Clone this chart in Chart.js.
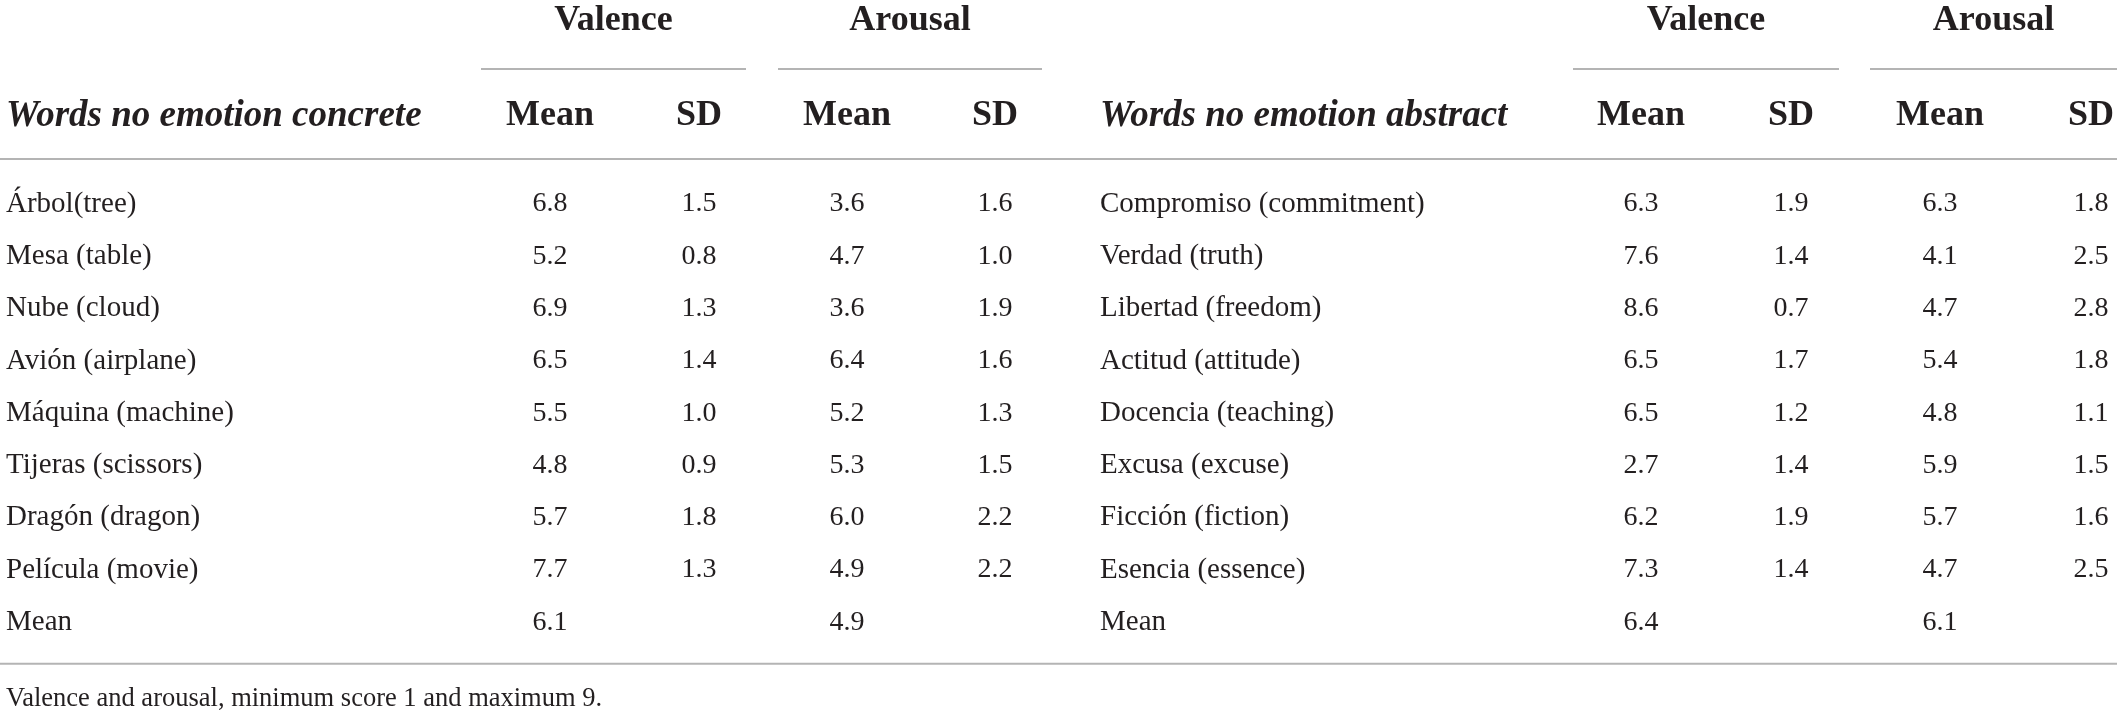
<!DOCTYPE html>
<html>
<head>
<meta charset="utf-8">
<script src="https://cdn.jsdelivr.net/npm/chart.js@4.4.1/dist/chart.umd.min.js"></script>
<style>
    html, body { margin: 0; padding: 0; background: #ffffff; }
    #tabla { display: block; }
</style>
</head>
<body>
<canvas id="tabla" width="2117" height="713"></canvas>
<script>
// table values
const groupLabels = ['Valence', 'Arousal'];
const statLabels = ['Mean', 'SD'];
const tableTitles = ['Words no emotion concrete', 'Words no emotion abstract'];
const meanRowLabel = 'Mean';
const footnote = 'Valence and arousal, minimum score 1 and maximum 9.';

const concreteWords = ['Árbol(tree)', 'Mesa (table)', 'Nube (cloud)', 'Avión (airplane)',
    'Máquina (machine)', 'Tijeras (scissors)', 'Dragón (dragon)', 'Película (movie)'];
const concreteValenceMean = [6.8, 5.2, 6.9, 6.5, 5.5, 4.8, 5.7, 7.7];
const concreteValenceSD = [1.5, 0.8, 1.3, 1.4, 1.0, 0.9, 1.8, 1.3];
const concreteArousalMean = [3.6, 4.7, 3.6, 6.4, 5.2, 5.3, 6.0, 4.9];
const concreteArousalSD = [1.6, 1.0, 1.9, 1.6, 1.3, 1.5, 2.2, 2.2];
const concreteOverall = [6.1, 4.9];   // valence mean, arousal mean

const abstractWords = ['Compromiso (commitment)', 'Verdad (truth)', 'Libertad (freedom)', 'Actitud (attitude)',
    'Docencia (teaching)', 'Excusa (excuse)', 'Ficción (fiction)', 'Esencia (essence)'];
const abstractValenceMean = [6.3, 7.6, 8.6, 6.5, 6.5, 2.7, 6.2, 7.3];
const abstractValenceSD = [1.9, 1.4, 0.7, 1.7, 1.2, 1.4, 1.9, 1.4];
const abstractArousalMean = [6.3, 4.1, 4.7, 5.4, 4.8, 5.9, 5.7, 4.7];
const abstractArousalSD = [1.8, 2.5, 2.8, 1.8, 1.1, 1.5, 1.6, 2.5];
const abstractOverall = [6.4, 6.1];

(function(){

    const W = 2117;
    const INK = '#231f20';
    const RULE = '#b4b4b4';
    const SERIF = '"Liberation Serif", "DejaVu Serif", serif';

    // y axis is in row units: row 0 = first word, 8 = mean row
    const ROW_PX = 52.3;
    const ROW_GROUP = -3.51;
    const ROW_UNDER = -2.58;
    const ROW_HEAD = -1.68;
    const ROW_TOPRULE = -0.86;
    const ROW_MEAN = concreteWords.length;
    const ROW_BOTRULE = 8.79;
    const ROW_NOTE = 9.46;

    // x axis in pixels, column layout of the two halves
    const halves = [
        {labelX: 6,    cols: [550, 699, 847, 995],    spans: [[481, 746], [778, 1042]]},
        {labelX: 1100, cols: [1641, 1791, 1940, 2091], spans: [[1573, 1839], [1870, 2117]]}
    ];

    const fmt = v => v.toFixed(1);

    let datasets = [];

    let textColumn = function(texts, x, rowStart, font, align){
        datasets.push({
            type: 'scatter',
            data: texts.map((t, i) => ({x: x, y: rowStart + i})),
            cellText: texts,
            cellFont: font,
            cellAlign: align || 'center',
            pointRadius: 0,
            pointHoverRadius: 0
        });
    };

    let rule = function(x0, x1, row){
        datasets.push({
            type: 'line',
            data: [{x: x0, y: row}, {x: x1, y: row}],
            borderColor: RULE,
            borderWidth: 2,
            pointRadius: 0,
            fill: false
        });
    };

    const bodyFont = '29px ' + SERIF;
    const numFont = '28px ' + SERIF;
    const headFont = 'bold 36px ' + SERIF;
    const titleFont = 'italic bold 37px ' + SERIF;

    let tables = [
        {words: concreteWords, cols: [concreteValenceMean, concreteValenceSD, concreteArousalMean, concreteArousalSD], overall: concreteOverall},
        {words: abstractWords, cols: [abstractValenceMean, abstractValenceSD, abstractArousalMean, abstractArousalSD], overall: abstractOverall}
    ];

    tables.forEach(function(t, h){
        let lay = halves[h];

        // group headers + underlines
        groupLabels.forEach(function(g, k){
            let sp = lay.spans[k];
            textColumn([g], (sp[0] + sp[1]) / 2, ROW_GROUP, headFont);
            rule(sp[0], sp[1], ROW_UNDER);
        });

        // column headers
        textColumn([tableTitles[h]], lay.labelX, ROW_HEAD, titleFont, 'left');
        lay.cols.forEach(function(x, k){
            textColumn([statLabels[k % 2]], x, ROW_HEAD, headFont);
        });

        // body
        textColumn(t.words.concat([meanRowLabel]), lay.labelX, 0, bodyFont, 'left');
        t.cols.forEach(function(vals, k){
            textColumn(vals.map(fmt), lay.cols[k], 0, numFont);
        });
        textColumn([fmt(t.overall[0])], lay.cols[0], ROW_MEAN, numFont);
        textColumn([fmt(t.overall[1])], lay.cols[2], ROW_MEAN, numFont);
    });

    rule(0, W, ROW_TOPRULE);
    rule(0, W, ROW_BOTRULE);
    textColumn([footnote], 6, ROW_NOTE, '26.5px ' + SERIF, 'left');

    const cellText = {
        id: 'cellText',
        afterDatasetsDraw(chart){
            const ctx = chart.ctx;
            chart.data.datasets.forEach(function(ds, i){
                if(!ds.cellText) return;
                const meta = chart.getDatasetMeta(i);
                ctx.save();
                ctx.fillStyle = INK;
                ctx.font = ds.cellFont;
                ctx.textAlign = ds.cellAlign;
                ctx.textBaseline = 'middle';
                meta.data.forEach(function(el, j){
                    ctx.fillText(ds.cellText[j], el.x, el.y);
                });
                ctx.restore();
            });
        }
    };

    const yMin = -204 / ROW_PX;
    const yMax = yMin + 713 / ROW_PX;

    new Chart(document.getElementById('tabla').getContext('2d'), {
        type: 'scatter',
        data: {datasets: datasets},
        options: {
            responsive: false,
            animation: false,
            events: [],
            layout: {padding: 0},
            plugins: {
                legend: {display: false},
                tooltip: {enabled: false},
                title: {display: false}
            },
            scales: {
                x: {type: 'linear', display: false, min: 0, max: W},
                y: {type: 'linear', display: false, reverse: true, min: yMin, max: yMax}
            }
        },
        plugins: [cellText]
    });

})();
</script>
</body>
</html>
